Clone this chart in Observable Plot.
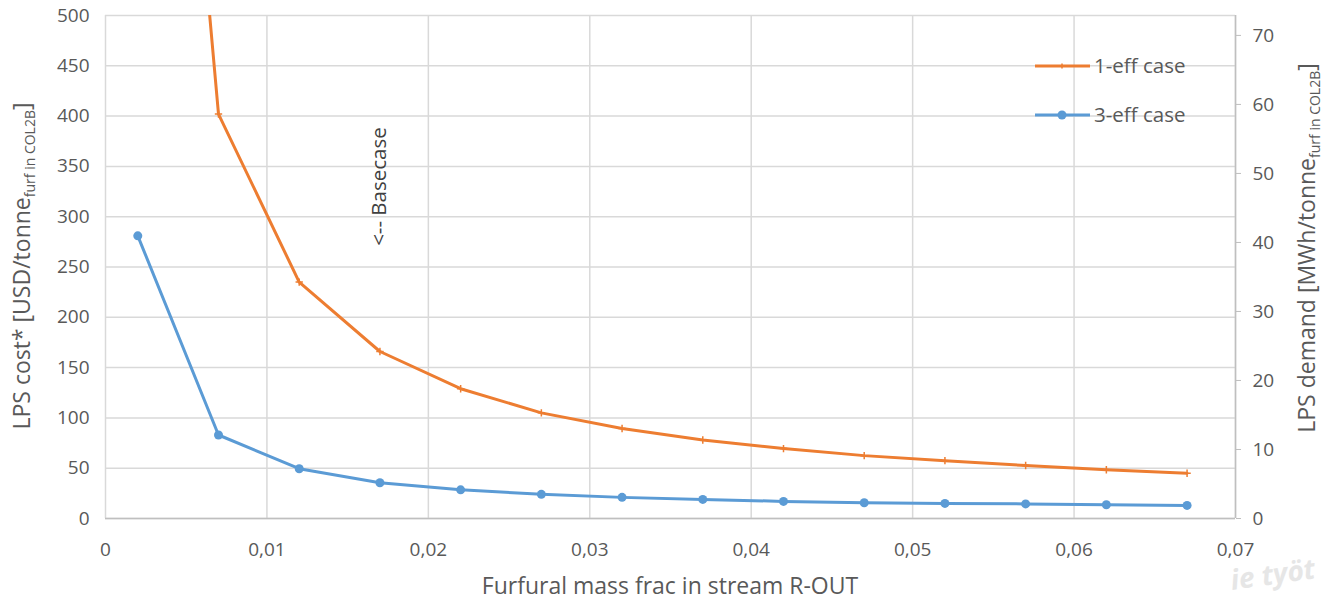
<!DOCTYPE html>
<html><head><meta charset="utf-8">
<script src="https://cdn.jsdelivr.net/npm/d3@7"></script>
<script src="https://cdn.jsdelivr.net/npm/@observablehq/plot@0.6"></script>
<style>body{margin:0;background:#fff;} #chart{position:relative;width:1323px;height:600px;overflow:hidden;}</style>
</head><body><div id="chart"></div>
<script>
// ---- data ----
const massFrac = [0.002, 0.007, 0.012, 0.017, 0.022, 0.027, 0.032, 0.037, 0.042, 0.047, 0.052, 0.057, 0.062, 0.067];
const oneEffCost = [1300, 402, 235, 166, 129, 105, 89.5, 78, 69.5, 62.5, 57.5, 52.7, 48.5, 45];
const threeEffCost = [281, 83, 49.5, 35.5, 28.5, 24, 21, 19, 17, 15.6, 15, 14.5, 13.7, 13];
const seriesNames = ["1-eff case", "3-eff case"];
const seriesColors = ["#ED7D31", "#5B9BD5"];
const xTicks = [0, 0.01, 0.02, 0.03, 0.04, 0.05, 0.06, 0.07];
const yTicks = [0, 50, 100, 150, 200, 250, 300, 350, 400, 450, 500];
const demandTicks = [0, 10, 20, 30, 40, 50, 60, 70];
const usdPerMWh = 6.86;
const baseCaseX = 0.017, baseCaseY = 271;
const baseCaseLabel = ["<-- Basecase"];
const xTitle = "Furfural mass frac in stream R-OUT";

const data = massFrac.flatMap((x, i) => [
  {x, y: oneEffCost[i], s: seriesNames[0]},
  {x, y: threeEffCost[i], s: seriesNames[1]}
]);

const fmt = d => d === 0 ? "0" : d3.format(".2f")(d).replace(".", ",");
const FONT = "'Open Sans', Lato, sans-serif";
const TXT = "#595959";

const plot = Plot.plot({
  width: 1323, height: 600,
  marginLeft: 105, marginRight: 88, marginTop: 15, marginBottom: 82,
  style: {fontFamily: FONT, fontSize: "19px", color: TXT, background: "#fff"},
  x: {domain: [0, 0.07]},
  y: {domain: [0, 500]},
  color: {domain: seriesNames, range: seriesColors},
  marks: [
    Plot.gridX(xTicks, {stroke: "#d9d9d9", strokeOpacity: 1, strokeWidth: 1.5}),
    Plot.gridY(yTicks, {stroke: "#d9d9d9", strokeOpacity: 1, strokeWidth: 1.5}),
    Plot.ruleY([0], {stroke: "#bfbfbf", strokeWidth: 1.5}),
    Plot.ruleX([0.07], {stroke: "#bfbfbf", strokeWidth: 1.5}),
    Plot.axisX(xTicks, {tickSize: 0, tickPadding: 24, tickFormat: fmt, label: null}),
    Plot.axisY(yTicks, {tickSize: 0, tickPadding: 16, label: null}),
    Plot.axisY(demandTicks.map(d => d * usdPerMWh), {anchor: "right", tickSize: 5, tickPadding: 12,
      tickFormat: d => String(Math.round(d / usdPerMWh)), stroke: "#bfbfbf", label: null}),
    Plot.line(data, {x: "x", y: "y", z: "s", stroke: "s", strokeWidth: 3, clip: true}),
    Plot.dot(data.filter(d => d.s === seriesNames[1]), {x: "x", y: "y", fill: "s", r: 4.5, clip: true}),
    Plot.dot(data.filter(d => d.s === seriesNames[0]), {x: "x", y: "y", stroke: "s", symbol: "plus", r: 2.5, strokeWidth: 1.5, clip: true}),
    Plot.text(baseCaseLabel, {x: () => baseCaseX, y: () => baseCaseY, rotate: -90, textAnchor: "start", fontSize: 20.5, fill: "#404040"})
  ]
});

document.getElementById("chart").appendChild(plot);
const svg = d3.select(plot);

// x-axis title
svg.append("text").attr("x", 670).attr("y", 594).attr("text-anchor", "middle")
  .attr("font-family", FONT).attr("font-size", 23).attr("fill", TXT).text(xTitle);

function subLabel(x, y, main, sub) {
  const t = svg.append("text").attr("transform", `translate(${x},${y}) rotate(-90)`)
    .attr("text-anchor", "middle").attr("font-family", FONT).attr("font-size", 23).attr("fill", TXT);
  t.append("tspan").text(main);
  t.append("tspan").attr("dy", 5).attr("font-size", 14).text(sub);
  t.append("tspan").attr("dy", -5).text("]");
}
subLabel(30, 266, "LPS cost* [USD/tonne", "furf in COL2B");
subLabel(1315, 248, "LPS demand [MWh/tonne", "furf in COL2B");

// legend
const lg = svg.append("g").attr("font-family", FONT).attr("font-size", 20.5).attr("fill", TXT).attr("text-anchor", "start");
[[66, 0], [115, 1]].forEach(([yy, i]) => {
  lg.append("line").attr("x1", 1035).attr("x2", 1090).attr("y1", yy).attr("y2", yy)
    .attr("stroke", seriesColors[i]).attr("stroke-width", 3);
  if (i === 1) lg.append("circle").attr("cx", 1062).attr("cy", yy).attr("r", 4.5).attr("fill", seriesColors[i]);
  else lg.append("path").attr("d", `M1059.5,${yy}h5M1062,${yy-2.5}v5`).attr("stroke", seriesColors[i]).attr("stroke-width", 1.5);
  lg.append("text").attr("x", 1094).attr("y", yy).attr("dy", "0.35em").text(seriesNames[i]);
});

// faint watermark fragment
svg.append("text").attr("x", 1232).attr("y", 590).attr("transform", "rotate(-8,1232,590)")
  .attr("text-anchor", "start")
  .attr("font-family", FONT).attr("font-size", 28).attr("font-style", "italic").attr("font-weight", "bold")
  .attr("fill", "#e6e6e6").text("ie työt");
</script>
</body></html>
